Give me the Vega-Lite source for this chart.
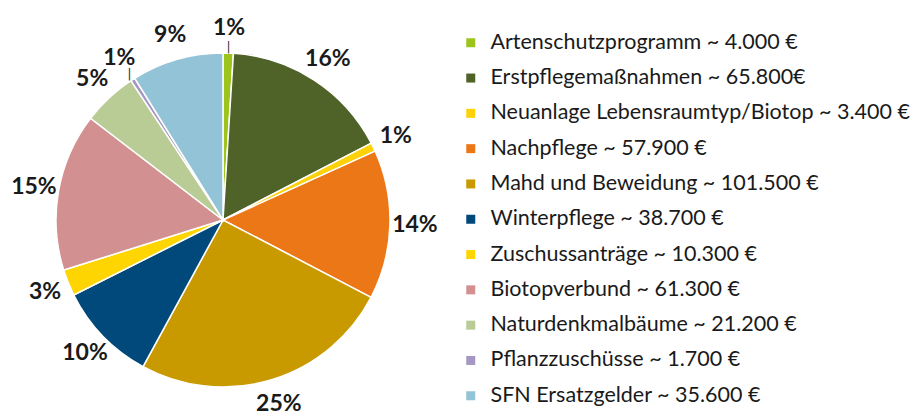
{
  "$schema": "https://vega.github.io/schema/vega-lite/v6.json",
  "autosize": "none",
  "width": 446,
  "height": 388,
  "padding": {"left": 0, "top": 26, "right": 470, "bottom": 0},
  "background": "white",
  "config": {"view": {"stroke": null}, "font": "Lato"},
  "data": {
    "values": [
      {"i": 1, "name": "Artenschutzprogramm ~ 4.000 €", "value": 4000, "pct": "1%"},
      {"i": 2, "name": "Erstpflegemaßnahmen ~ 65.800€", "value": 65800, "pct": "16%"},
      {"i": 3, "name": "Neuanlage Lebensraumtyp/Biotop ~ 3.400 €", "value": 3400, "pct": "1%"},
      {"i": 4, "name": "Nachpflege ~ 57.900 €", "value": 57900, "pct": "14%"},
      {"i": 5, "name": "Mahd und Beweidung ~ 101.500 €", "value": 101500, "pct": "25%"},
      {"i": 6, "name": "Winterpflege ~ 38.700 €", "value": 38700, "pct": "10%"},
      {"i": 7, "name": "Zuschussanträge ~ 10.300 €", "value": 10300, "pct": "3%"},
      {"i": 8, "name": "Biotopverbund ~ 61.300  €", "value": 61300, "pct": "15%"},
      {"i": 9, "name": "Naturdenkmalbäume ~ 21.200 €", "value": 21200, "pct": "5%"},
      {"i": 10, "name": "Pflanzzuschüsse ~ 1.700 €", "value": 1700, "pct": "1%"},
      {"i": 11, "name": "SFN Ersatzgelder  ~ 35.600 €", "value": 35600, "pct": "9%"}
    ]
  },
  "encoding": {
    "theta": {"field": "value", "type": "quantitative", "stack": true},
    "order": {"field": "i", "type": "quantitative"}
  },
  "layer": [
    {
      "mark": {"type": "arc", "outerRadius": 167, "stroke": "white", "strokeWidth": 1.5},
      "encoding": {
        "color": {
          "field": "name",
          "type": "nominal",
          "sort": null,
          "scale": {
            "domain": [
              "Artenschutzprogramm ~ 4.000 €",
              "Erstpflegemaßnahmen ~ 65.800€",
              "Neuanlage Lebensraumtyp/Biotop ~ 3.400 €",
              "Nachpflege ~ 57.900 €",
              "Mahd und Beweidung ~ 101.500 €",
              "Winterpflege ~ 38.700 €",
              "Zuschussanträge ~ 10.300 €",
              "Biotopverbund ~ 61.300  €",
              "Naturdenkmalbäume ~ 21.200 €",
              "Pflanzzuschüsse ~ 1.700 €",
              "SFN Ersatzgelder  ~ 35.600 €"
            ],
            "range": ["#9cc41c", "#4f6228", "#fdd20a", "#ec7716", "#c99a00", "#00497a", "#fed500", "#d39090", "#b9cc96", "#a597c4", "#93c3d6"]
          },
          "legend": {
            "title": null,
            "orient": "none",
            "legendX": 460,
            "legendY": 6,
            "padding": 0,
            "symbolType": "square",
            "symbolSize": 81,
            "symbolStrokeWidth": 0,
            "labelFont": "Lato",
            "labelFontSize": 21.5,
            "labelColor": "#1a1a1a",
            "labelOffset": 9,
            "rowPadding": 12.3,
            "labelLimit": 500
          }
        }
      }
    },
    {
      "mark": {"type": "text", "radius": 192, "font": "Lato", "fontSize": 23, "fontWeight": "bold", "color": "#1a1a1a"},
      "encoding": {
        "detail": {"field": "name", "type": "nominal"},
        "text": {"field": "pct", "type": "nominal"}
      }
    },
    {
      "mark": {"type": "text", "radius": 173, "font": "DejaVu Sans", "baseline": "middle", "color": "#333333"},
      "encoding": {
        "detail": {"field": "name", "type": "nominal"},
        "text": {"condition": {"test": "datum.i == 1 || datum.i == 10", "value": "|"}, "value": ""},
        "size": {"condition": {"test": "datum.i == 10", "value": 13}, "value": 12}
      }
    }
  ]
}
